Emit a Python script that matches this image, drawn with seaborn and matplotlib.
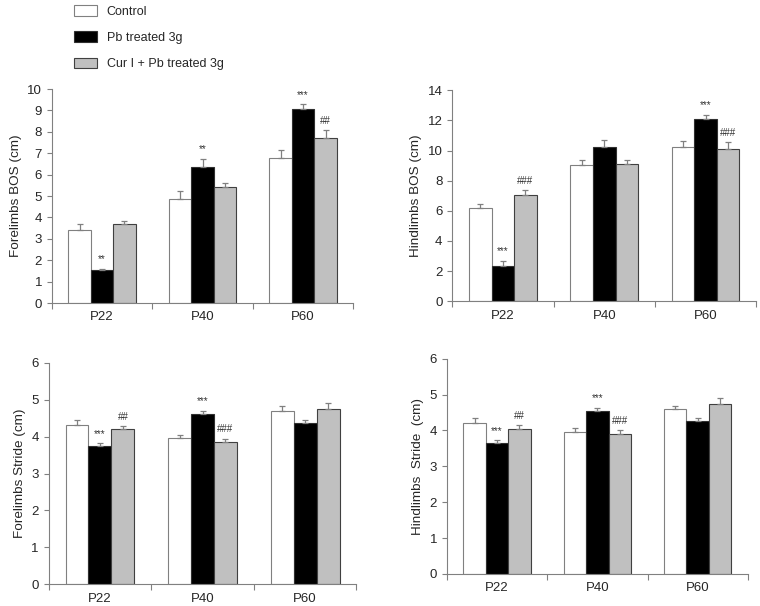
import seaborn as sns
import matplotlib.pyplot as plt
import pandas as pd
from matplotlib.patches import Patch

# data (mean, upper error bar top)
ages = ["P22", "P40", "P60"]
groups = ["Control", "Pb treated 3g", "Cur I + Pb treated 3g"]

fore_bos = [[3.43, 4.88, 6.80], [1.53, 6.35, 9.05], [3.70, 5.40, 7.72]]
fore_bos_err = [[0.24, 0.35, 0.33], [0.08, 0.40, 0.23], [0.15, 0.23, 0.38]]
fore_bos_marks = [["", "", ""], ["**", "**", "***"], ["", "", "##"]]

hind_bos = [[6.19, 9.07, 10.24], [2.32, 10.24, 12.12], [7.08, 9.12, 10.11]]
hind_bos_err = [[0.23, 0.27, 0.38], [0.38, 0.45, 0.27], [0.27, 0.24, 0.44]]
hind_bos_marks = [["", "", ""], ["***", "", "***"], ["###", "", "###"]]

fore_stride = [[4.32, 3.97, 4.71], [3.74, 4.62, 4.37], [4.22, 3.86, 4.74]]
fore_stride_err = [[0.14, 0.09, 0.11], [0.08, 0.09, 0.09], [0.06, 0.09, 0.17]]
fore_stride_marks = [["", "", ""], ["***", "***", ""], ["##", "###", ""]]

hind_stride = [[4.21, 3.95, 4.60], [3.64, 4.54, 4.27], [4.05, 3.90, 4.73]]
hind_stride_err = [[0.13, 0.11, 0.08], [0.09, 0.10, 0.08], [0.09, 0.10, 0.18]]
hind_stride_marks = [["", "", ""], ["***", "***", ""], ["##", "###", ""]]

colors = ["white", "black", "#c0c0c0"]
edges = ["#808080", "#303030", "#404040"]

sns.set_theme(style="ticks")
plt.rcParams["font.family"] = ["Liberation Sans", "DejaVu Sans"]

fig = plt.figure(figsize=(7.6, 6.06), dpi=100)

panels = [
    ([0.068, 0.500, 0.397, 0.353], fore_bos, fore_bos_err, fore_bos_marks, "Forelimbs BOS (cm)", 10, 1),
    ([0.595, 0.503, 0.400, 0.348], hind_bos, hind_bos_err, hind_bos_marks, "Hindlimbs BOS (cm)", 14, 2),
    ([0.064, 0.036, 0.405, 0.365], fore_stride, fore_stride_err, fore_stride_marks, "Forelimbs Stride (cm)", 6, 1),
    ([0.588, 0.053, 0.396, 0.355], hind_stride, hind_stride_err, hind_stride_marks, "Hindlimbs  Stride  (cm)", 6, 1),
]

for rect, vals, errs, marks, ylabel, ymax, step in panels:
    ax = fig.add_axes(rect)
    df = pd.DataFrame({
        "age": [a for g in groups for a in ages],
        "group": [g for g in groups for a in ages],
        "value": [v for row in vals for v in row],
    })
    sns.barplot(data=df, x="age", y="value", hue="group", order=ages, hue_order=groups,
                palette=colors, width=0.67, errorbar=None, legend=False, ax=ax,
                edgecolor="#404040", linewidth=0.8, saturation=1)
    bar_conts = list(ax.containers)
    for i, cont in enumerate(bar_conts):
        for j, bar in enumerate(cont):
            bar.set_edgecolor(edges[i])
            xc = bar.get_x() + bar.get_width() / 2
            top = vals[i][j] + errs[i][j]
            ax.errorbar(xc, vals[i][j], yerr=[[0], [errs[i][j]]], fmt="none",
                        ecolor="#808080", elinewidth=0.9, capsize=2.5, capthick=0.9, zorder=1)
            if marks[i][j]:
                ax.annotate(marks[i][j], (xc, top), xytext=(0, 3), textcoords="offset points",
                            ha="center", va="bottom", fontsize=7, color="#333333")
    ax.set_ylim(0, ymax)
    ax.set_yticks(range(0, ymax + 1, step))
    ax.set_xlim(-0.5, 2.5)
    ax.set_xticks([-0.5, 0.5, 1.5, 2.5], minor=True)
    ax.tick_params(axis="x", which="major", length=0, pad=6, labelsize=9.5)
    ax.tick_params(axis="x", which="minor", length=4, color="#808080", width=0.8)
    ax.tick_params(axis="y", length=3.5, color="#808080", width=0.8, labelsize=9.5)
    ax.set_xlabel("")
    ax.set_ylabel(ylabel, fontsize=9.7)
    sns.despine(ax=ax)
    for s in ["left", "bottom"]:
        ax.spines[s].set_color("#808080")
        ax.spines[s].set_linewidth(0.8)

handles = [Patch(facecolor=c, edgecolor=e, linewidth=0.8) for c, e in zip(colors, edges)]
fig.legend(handles, groups, loc="upper left", bbox_to_anchor=(0.083, 1.01), frameon=False,
           fontsize=9, labelspacing=1.1, handlelength=1.8, handleheight=0.9, handletextpad=0.8)

fig.savefig("out.png", dpi=100)
